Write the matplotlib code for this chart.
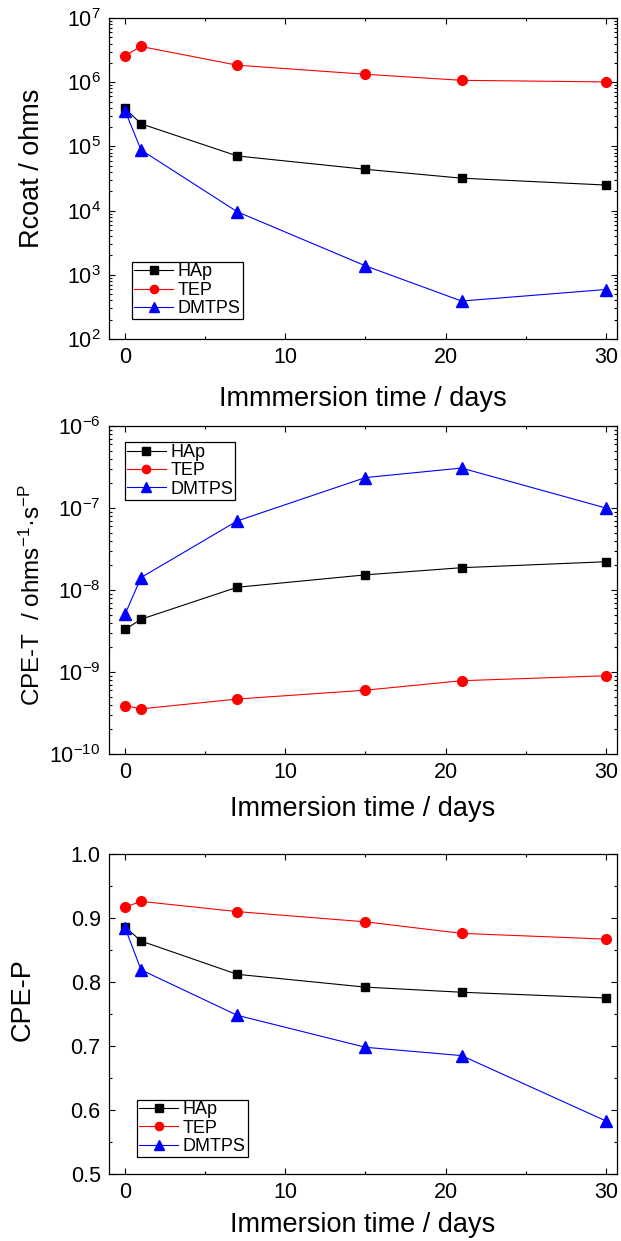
import matplotlib
matplotlib.use("Agg")
import matplotlib.pyplot as plt
from matplotlib.ticker import MultipleLocator, LogLocator, NullFormatter

plt.rcParams['font.family'] = ['Liberation Sans', 'DejaVu Sans']
plt.rcParams['mathtext.fontset'] = 'custom'
plt.rcParams['mathtext.rm'] = 'Liberation Sans'
plt.rcParams['mathtext.it'] = 'Liberation Sans:italic'
plt.rcParams['mathtext.bf'] = 'Liberation Sans:bold'
plt.rcParams['mathtext.default'] = 'regular'

# Immersion days
days = [0, 1, 7, 15, 21, 30]
series_names = ['HAp', 'TEP', 'DMTPS']

# Coating resistance (ohms)
rcoat_hap = [3.9e5, 2.25e5, 7.1e4, 4.4e4, 3.2e4, 2.5e4]
rcoat_tep = [2.6e6, 3.6e6, 1.84e6, 1.33e6, 1.07e6, 1.01e6]
rcoat_dmtps = [3.6e5, 8.8e4, 9.6e3, 1.38e3, 390, 590]

# CPE-T (ohms^-1 s^-P)
cpet_hap = [3.3e-9, 4.4e-9, 1.08e-8, 1.53e-8, 1.87e-8, 2.21e-8]
cpet_tep = [3.9e-10, 3.55e-10, 4.68e-10, 6.0e-10, 7.83e-10, 9.0e-10]
cpet_dmtps = [5.06e-9, 1.42e-8, 6.95e-8, 2.35e-7, 3.07e-7, 1.0e-7]

# CPE-P exponent
cpep_hap = [0.886, 0.864, 0.812, 0.792, 0.784, 0.775]
cpep_tep = [0.917, 0.926, 0.910, 0.894, 0.876, 0.867]
cpep_dmtps = [0.885, 0.819, 0.748, 0.698, 0.685, 0.583]

styles = [
    dict(color='black', marker='s', ms=6),
    dict(color='#ff0000', marker='o', ms=7),
    dict(color='#0000ff', marker='^', ms=8),
]

W, H = 621, 1241
fig = plt.figure(figsize=(W / 100, H / 100), dpi=100)

left = 109 / W
width = 508 / W


def make_axes(top_px, bottom_px):
    return fig.add_axes([left, 1 - bottom_px / H, width, (bottom_px - top_px) / H])


def style_axes(ax):
    for s in ax.spines.values():
        s.set_linewidth(0.9)
    ax.set_xlim(-1, 30.7)
    ax.xaxis.set_major_locator(MultipleLocator(10))
    ax.xaxis.set_minor_locator(MultipleLocator(5))
    ax.tick_params(which='both', direction='in', top=True, right=True,
                   width=0.8, labelsize=15.5, pad=6)
    ax.tick_params(which='major', length=4.5)
    ax.tick_params(which='minor', length=2.5)
    ax.xaxis.get_offset_text().set_visible(False)
    ax.yaxis.get_offset_text().set_visible(False)


def plot_series(ax, ys):
    for name, y, st in zip(series_names, ys, styles):
        ax.plot(days, y, label=name, lw=0.8, color=st['color'],
                marker=st['marker'], ms=st['ms'], mec=st['color'],
                mfc=st['color'])


def add_legend(ax, loc, anchor):
    leg = ax.legend(loc=loc, bbox_to_anchor=anchor, borderaxespad=0,
                    fontsize=13, numpoints=1, handlelength=2.2,
                    handletextpad=0.25, labelspacing=0.08, borderpad=0.1,
                    fancybox=False, framealpha=1, edgecolor='black')
    leg.get_frame().set_linewidth(0.9)
    for h in leg.legend_handles:
        h.set_markersize(h.get_markersize() * 0.85)


# Coating resistance
ax1 = make_axes(18, 339)
plot_series(ax1, [rcoat_hap, rcoat_tep, rcoat_dmtps])
ax1.set_yscale('log')
ax1.set_ylim(1e2, 1e7)
ax1.yaxis.set_major_locator(LogLocator(base=10, numticks=10))
ax1.yaxis.set_minor_locator(LogLocator(base=10, subs=range(2, 10), numticks=20))
ax1.yaxis.set_minor_formatter(NullFormatter())
style_axes(ax1)
ax1.set_xlabel('Immmersion time / days', fontsize=19.5, labelpad=13)
ax1.set_ylabel('Rcoat / ohms', fontsize=19.5)
ax1.yaxis.set_label_coords(-0.126, 0.533)
add_legend(ax1, 'lower left', (0.045, 0.062))

# CPE-T
ax2 = make_axes(426, 754)
plot_series(ax2, [cpet_hap, cpet_tep, cpet_dmtps])
ax2.set_yscale('log')
ax2.set_ylim(1e-10, 1e-6)
ax2.yaxis.set_major_locator(LogLocator(base=10, numticks=10))
ax2.yaxis.set_minor_locator(LogLocator(base=10, subs=range(2, 10), numticks=20))
ax2.yaxis.set_minor_formatter(NullFormatter())
style_axes(ax2)
ax2.set_xlabel('Immersion time / days', fontsize=19.5, labelpad=9)
ax2.set_ylabel('CPE-T  / ohms$^{-1}$·s$^{-P}$', fontsize=17.5)
ax2.yaxis.set_label_coords(-0.126, 0.485)
add_legend(ax2, 'upper left', (0.031, 0.951))

# CPE-P
ax3 = make_axes(854, 1174)
plot_series(ax3, [cpep_hap, cpep_tep, cpep_dmtps])
ax3.set_ylim(0.5, 1.0)
ax3.yaxis.set_major_locator(MultipleLocator(0.1))
ax3.yaxis.set_minor_locator(MultipleLocator(0.05))
style_axes(ax3)
ax3.set_xlabel('Immersion time / days', fontsize=19.5, labelpad=6)
ax3.set_ylabel('CPE-P', fontsize=19.5)
ax3.yaxis.set_label_coords(-0.144, 0.544)
add_legend(ax3, 'lower left', (0.055, 0.053))

fig.savefig('out.png', dpi=100)
